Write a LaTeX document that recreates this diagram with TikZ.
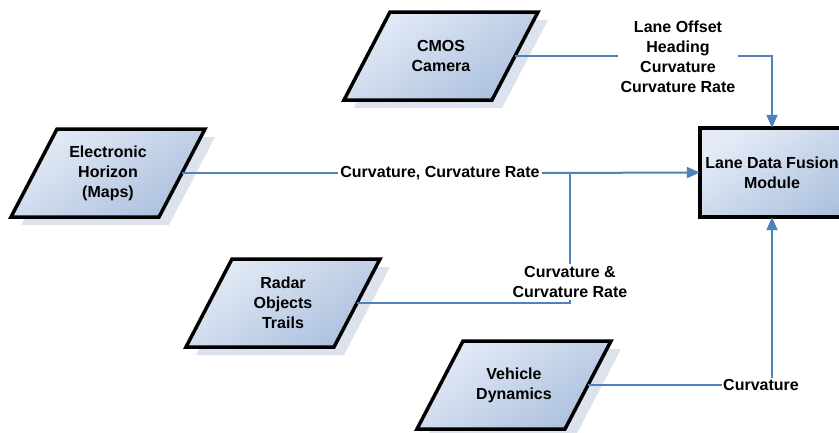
\documentclass[tikz,border=0pt]{standalone}
\usepackage{fontspec}
\setmainfont{Liberation Sans}
\usetikzlibrary{arrows.meta,calc}

\definecolor{linkblue}{RGB}{79,129,189}
\definecolor{fillhi}{RGB}{228,235,246}
\definecolor{filllo}{RGB}{172,192,222}
\definecolor{shadowc}{RGB}{220,227,239}

\tikzset{
  txt/.style={font=\bfseries\fontsize{16}{20}\selectfont, align=center},
  lbl/.style={txt, inner sep=2pt},
  intext/.style={txt, inner sep=0pt},
  link/.style={draw=linkblue, line width=2pt},
  tip/.style={-{Triangle[length=13pt,width=11pt]}},
  frame/.style={draw=black, line width=3.5pt, line join=miter},
  body/.style={top color=fillhi, bottom color=filllo, shading angle=35},
}

% data source: shaded parallelogram with drop shadow, text node and east coordinate
% #1 name, #2 centre x, #3 centre y, #4 text
\newcommand\sourcebox[4]{%
  \fill[shadowc] (#2-87,#3+52) -- (#2+61,#3+52) -- (#2+107,#3-36) -- (#2-41,#3-36) -- cycle;
  \path[frame, body] (#2-97,#3+44) -- (#2+51,#3+44) -- (#2+97,#3-44) -- (#2-51,#3-44) -- cycle;
  \node[intext] (#1) at (#2,#3) {#4};
  \coordinate (#1-e) at (#2+74,#3);
}

\begin{document}
\begin{tikzpicture}[x=1pt, y=-1pt]
  \useasboundingbox (0,0) rectangle (839,432);
  \clip (0,0) rectangle (839,432);
  \fill[white] (0,0) rectangle (839,432);

  % sources
  \sourcebox{cam}{441}{56}{CMOS\\Camera}
  \sourcebox{eh}{108}{173}{Electronic\\Horizon\\(Maps)}
  \sourcebox{rad}{283}{303}{Radar\\Objects\\Trails}
  \sourcebox{veh}{514}{385}{Vehicle\\Dynamics}

  % fusion module: the frame runs past the right edge of the page
  \path[frame, body] (700,128) rectangle (870,217);
  \node[intext, minimum width=144pt, minimum height=89pt] (lane) at (772,172.5)
    {Lane Data Fusion\\Module};

  % connector labels
  \node[lbl] (camlbl) at (678,57) {Lane Offset\\Heading\\Curvature\\Curvature Rate};
  \node[lbl] (ehlbl) at (440,173) {Curvature, Curvature Rate};
  \node[lbl] (radlbl) at (570,282) {Curvature \&\\Curvature Rate};
  \node[lbl, inner sep=1pt] (vehlbl) at (761,385) {Curvature};
  \coordinate (jn) at (radlbl.north |- ehlbl);

  % connectors
  \draw[link] (cam-e) -- (camlbl.west |- cam-e);
  \draw[link, tip] (camlbl.east |- cam-e) -| (lane.north);

  \draw[link] (eh-e) -- (ehlbl.west);
  \draw[link, tip] (ehlbl.east) -- (lane.west);

  \draw[link] (rad-e) -| (radlbl.south);
  \draw[link] (radlbl.north) -- (jn);

  \draw[link] (veh-e) -- (vehlbl.west);
  \draw[link, tip] (vehlbl.north -| lane.south) -- (lane.south);
\end{tikzpicture}
\end{document}
